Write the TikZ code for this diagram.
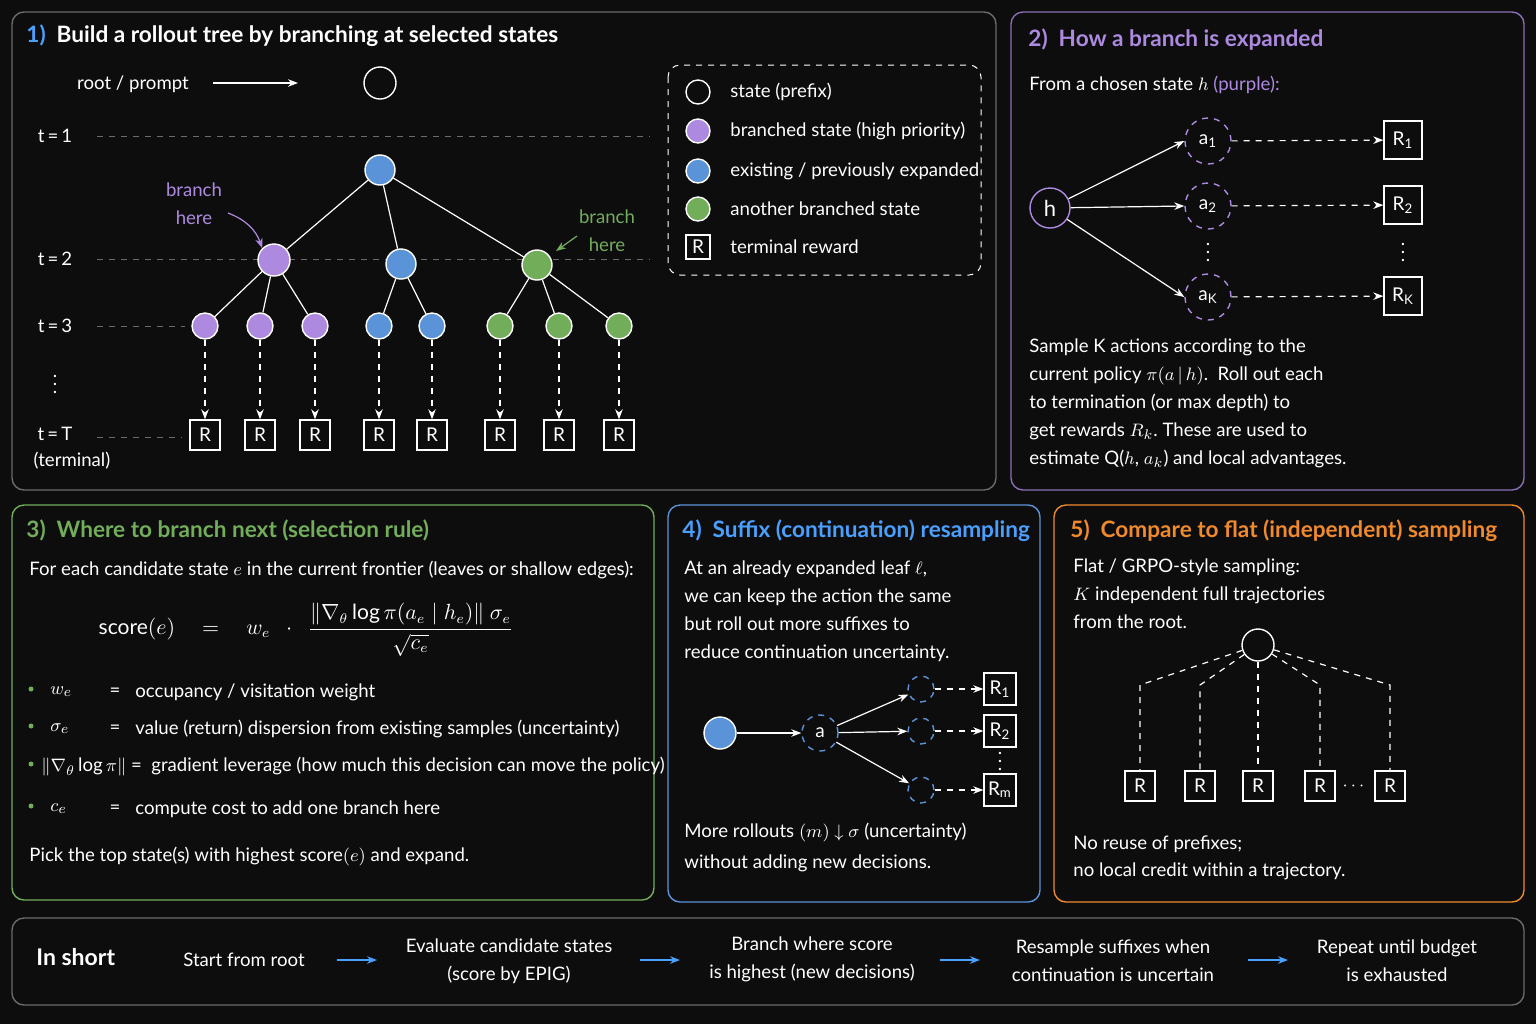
\documentclass[tikz,border=0pt]{standalone}
\usepackage{fontspec}
\setmainfont{Lato}
\usepackage{amsmath}
\usetikzlibrary{arrows.meta,calc}
\definecolor{bgc}{HTML}{0D0D0E}
\definecolor{framec}{HTML}{6A6A6A}
\definecolor{bluec}{HTML}{5B93D8}
\definecolor{purplec}{HTML}{AD8AE0}
\definecolor{greenc}{HTML}{72AD5A}
\definecolor{orangec}{HTML}{F08A2C}
\definecolor{titleblue}{HTML}{4AA0FF}
\tikzset{
  panel/.style={draw=#1, rounded corners=6pt, line width=0.7pt},
  txt/.style={text=white, font=\fontsize{9.3}{14}\selectfont, inner sep=0pt},
  ttl/.style={text=white, font=\bfseries\fontsize{11.3}{15}\selectfont, anchor=west, inner sep=0pt},
  state/.style={circle, draw=white, line width=0.7pt, minimum size=15pt, inner sep=0pt, fill=#1},
  reward/.style={draw=white, line width=0.7pt, minimum size=15pt, inner sep=0pt, text=white,
    font=\fontsize{9.5}{12}\selectfont},
  action/.style={circle, draw=#1, dashed, line width=0.7pt, minimum size=23pt, inner sep=0pt, text=white,
    font=\fontsize{9.5}{12}\selectfont},
  guide/.style={draw=framec, dashed, line width=0.5pt},
  edge/.style={draw=white, line width=0.6pt},
  arr/.style={edge, -{Stealth[length=5pt]}},
  darr/.style={edge, dashed, -{Stealth[length=5pt]}},
}
\begin{document}
\begin{tikzpicture}[x=0.5pt, y=-0.5pt]
  \fill[bgc] (0,0) rectangle (1536,1024);
  \useasboundingbox (0,0) rectangle (1536,1024);
  % panels
  \draw[panel=framec] (12,12) rectangle (996,490);
  \draw[panel=purplec!80!black] (1011,12) rectangle (1524,490);
  \draw[panel=greenc] (12,505) rectangle (654,900);
  \draw[panel=bluec] (668,505) rectangle (1040,902);
  \draw[panel=orangec] (1054,505) rectangle (1524,902);
  \draw[panel=framec] (12,918) rectangle (1524,1005);

  % ---- panel 1 ----
  \node[ttl] (t1) at (26,36) {\textcolor{titleblue}{1)}\ \ Build a rollout tree by branching at selected states};
  \node[txt] (lt1) at (55,136) {t\,=\,1};
  \node[txt] (lt2) at (55,259) {t\,=\,2};
  \node[txt] (lt3) at (55,326) {t\,=\,3};
  \node[txt] (ldots) at (55,378) {$\vdots$};
  \node[txt] (ltT) at (55,434) {t\,=\,T};
  \node[txt] (lterm) at (72,461) {(terminal)};
  \draw[guide] (97,136) -- (650,136);
  \draw[guide] (97,259) -- (650,259);
  \draw[guide] (97,326) -- (185,326);
  \draw[guide] (97,437) -- (182,437);

  \node[txt] (rootlbl) at (133,84) {root / prompt};
  \node[state=bgc, minimum size=16pt] (root) at (380,83) {};
  \coordinate (rootarr) at (213,83);
  \draw[arr] (rootarr) -- ++(85,0);
  \node[state=bluec] (n1) at (380,170) {};
  \node[state=purplec, minimum size=16pt] (n2a) at (274,260) {};
  \node[state=bluec] (n2b) at (401,264) {};
  \node[state=greenc] (n2c) at (537,265) {};
  \draw[edge] (n1) -- (n2a) (n1) -- (n2b) (n1) -- (n2c);
  \foreach \x/\c/\p [count=\i] in {205/purplec/n2a, 260/purplec/n2a, 315/purplec/n2a,
      379/bluec/n2b, 432/bluec/n2b, 500/greenc/n2c, 559/greenc/n2c, 619/greenc/n2c}
  {
    \node[state=\c, minimum size=13pt] (leaf\i) at (\x,326) {};
    \node[reward] (r\i) at (\x,435) {R};
    \draw[edge] (\p) -- (leaf\i);
    \draw[darr] (leaf\i) -- (r\i);
  }
  \node[txt, text=purplec, align=center] (bh1) at (194,204) {branch\\here};
  \coordinate (bh1a) at (228,213);
  \draw[edge, draw=purplec, -{Stealth[length=5pt]}] (bh1a) to[bend left=25] (n2a.north west);
  \node[txt, text=greenc, align=center] (bh2) at (607,231) {branch\\here};
  \coordinate (bh2a) at (577,236);
  \draw[edge, draw=greenc, -{Stealth[length=5pt]}] (bh2a) -- (556,251);

  % legend
  \draw[guide, draw=white!70, rounded corners=6pt] (668,65) rectangle (981,275);
  \foreach \c/\t/\y in {bgc/{state (prefix)}/92, purplec/{branched state (high priority)}/131,
      bluec/{existing / previously expanded}/171, greenc/{another branched state}/209}
  {
    \node[state=\c, minimum size=12pt] at (698,\y) {};
    \node[txt, anchor=west] at (730,\y) {\t};
  }
  \node[reward, minimum size=12pt] (legr) at (698,247) {R};
  \node[txt, anchor=west] at (730,247) {terminal reward};

  % ---- panel 2 ----
  \node[ttl] (t2) at (1028,40) {\textcolor{purplec}{2)\ \ How a branch is expanded}};
  \node[txt, anchor=west] (from) at (1029,85) {From a chosen state $h$ \textcolor{purplec}{(purple):}};
  \node[state=bgc, draw=purplec, minimum size=20pt, text=white, font=\fontsize{11}{12}\selectfont] (h) at (1050,208) {h};
  \foreach \y/\s [count=\i] in {141/1, 206/2, 297/K}
  {
    \node[action=purplec] (a\i) at (1208,\y) {a$_{\mathrm{\s}}$};
    \node[reward, minimum size=19pt] (R\i) at (1403,\y-1) {R$_{\mathrm{\s}}$};
    \draw[arr] (h) -- (a\i.west);
    \draw[darr] (a\i) -- (R\i);
  }
  \node[txt] at (1208,246) {$\vdots$};
  \node[txt] at (1403,246) {$\vdots$};
  \node[txt, anchor=north west, align=left] (p2) at (1029,338)
    {Sample K actions according to the\\
     current policy $\pi(a\,|\,h)$.\ \ Roll out each\\
     to termination (or max depth) to\\
     get rewards $R_k$.\ These are used to\\
     estimate Q($h$, $a_k$) and local advantages.};

  % ---- panel 3 ----
  \node[ttl] (t3) at (26,530) {\textcolor{greenc}{3)\ \ Where to branch next (selection rule)}};
  \node[txt, anchor=west] at (29,570) {For each candidate state $e$ in the current frontier (leaves or shallow edges):};
  \node[txt, font=\fontsize{10.5}{14}\selectfont] (score) at (306,630)
    {score$(e)\quad=\quad w_e\ \ \cdot\ \ \dfrac{\|\nabla_\theta \log \pi(a_e\mid h_e)\|\ \sigma_e}{\sqrt{c_e}}$};
  \foreach \y/\s/\t in {692/{$w_e$}/{occupancy / visitation weight},
      729/{$\sigma_e$}/{value (return) dispersion from existing samples (uncertainty)},
      809/{$c_e$}/{compute cost to add one branch here}}
  {
    \fill[greenc] (31,\y-3) circle (2.5);
    \node[txt, anchor=west] at (50,\y) {\s};
    \node[txt] at (115,\y) {=};
    \node[txt, anchor=west] at (135,\y) {\t};
  }
  \fill[greenc] (31,764) circle (2.5);
  \node[txt, anchor=west] at (41,767) {$\|\nabla_\theta\log\pi\|$\ =\ \ gradient leverage (how much this decision can move the policy)};
  \node[txt, anchor=west] at (29,857) {Pick the top state(s) with highest score$(e)$ and expand.};

  % ---- panel 4 ----
  \node[ttl] (t4) at (682,531) {\textcolor{titleblue}{4)\ \ Suffix (continuation) resampling}};
  \node[txt, anchor=north west, align=left] at (684,560)
    {At an already expanded leaf $\ell$,\\ we can keep the action the same\\ but roll out more suffixes to\\ reduce continuation uncertainty.};
  \node[state=bluec, minimum size=16pt] (lf) at (720,733) {};
  \node[action=bluec, minimum size=18pt] (act) at (820,733) {a};
  \draw[arr] (lf) -- (act);
  \foreach \y/\s [count=\i] in {689/1, 731/2, 790/m}
  {
    \node[circle, draw=bluec, dashed, line width=0.7pt, minimum size=13pt] (c\i) at (921,\y) {};
    \node[reward, minimum size=16pt, inner sep=1pt] (m\i) at (1000,\y) {R$_{\mathrm{\s}}$};
    \draw[arr] (act) -- (c\i);
    \draw[darr] (c\i) -- (m\i);
  }
  \node[txt] at (1000,755) {$\vdots$};
  \node[txt, anchor=north west, align=left, font=\fontsize{9.3}{15.5}\selectfont] at (684,823)
    {More rollouts $(m)$ $\downarrow$ $\sigma$ (uncertainty)\\ without adding new decisions.};

  % ---- panel 5 ----
  \node[ttl] (t5) at (1070,531) {\textcolor{orangec}{5)\ \ Compare to flat (independent) sampling}};
  \node[txt, anchor=north west, align=left] at (1073,558)
    {Flat / GRPO-style sampling:\\ $K$ independent full trajectories\\ from the root.};
  \node[state=bgc, minimum size=16pt] (froot) at (1258,645) {};
  \foreach \x [count=\i] in {1140,1200,1258,1320,1390}
  {
    \node[reward] (fr\i) at (\x,786) {R};
    \coordinate (fk\i) at (\x,685);
    \draw[edge, dashed] (froot) -- (fk\i) -- (fr\i);
  }
  \node[txt] at (1355,786) {$\cdots$};
  \node[txt, anchor=north west, align=left, font=\fontsize{9.3}{13.5}\selectfont] at (1073,835)
    {No reuse of prefixes;\\ no local credit within a trajectory.};

  % ---- bottom ----
  \node[ttl, font=\bfseries\fontsize{11.5}{14}\selectfont] (short) at (36,957) {In short};
  \node[txt] (s1) at (244,960) {Start from root};
  \node[txt, align=center] (s2) at (509,961) {Evaluate candidate states\\ (score by EPIG)};
  \node[txt, align=center] (s3) at (812,959) {Branch where score\\ is highest (new decisions)};
  \node[txt, align=center] (s4) at (1113,961) {Resample suffixes when\\ continuation is uncertain};
  \node[txt, align=center] (s5) at (1397,961) {Repeat until budget\\ is exhausted};
  \foreach \x in {337,640,940,1248}
    \draw[arr, draw=titleblue] (\x,960) -- ++(40,0);
\end{tikzpicture}
\end{document}
